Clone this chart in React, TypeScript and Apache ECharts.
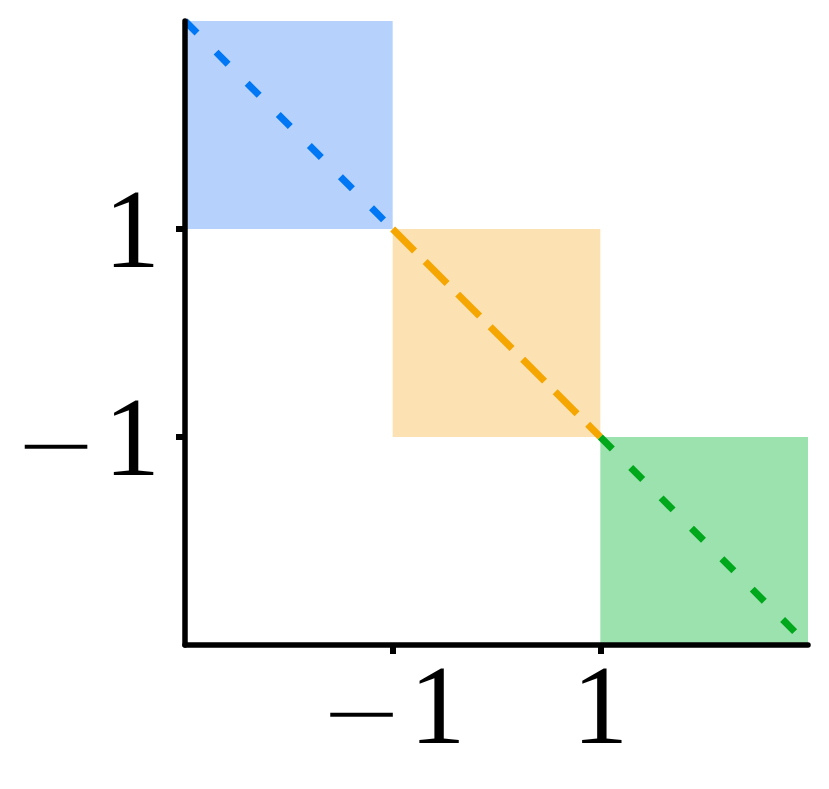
import React, { useEffect, useRef } from "react";
import * as echarts from "echarts";

// Tick values and labels
const xTickValues = [-1, 1];
const yTickValues = [-1, 1];
const axisMin = -3;
const axisMax = 3;

// Regions: [x0, x1, y0, y1]
const regionNames = ["blue", "orange", "green"];
const regionX0 = [-3, -1, 1];
const regionX1 = [-1, 1, 3];
const regionY0 = [1, -1, -3];
const regionY1 = [3, 1, -1];

// Diagonal dashed segments
const segStart = [
  [-3, 3],
  [-1, 1],
  [1, -1],
];
const segEnd = [
  [-1, 1],
  [1, -1],
  [3, -3],
];

const fillColors = ["#b6d1fb", "#fce1b2", "#9ce2ae"];
const lineColors = ["#0077f5", "#f5a600", "#00a81c"];
const dashPatterns = [
  [17, 27],
  [31, 15],
  [17, 26],
];

function fmt(v: number): string {
  if (v < 0) return "{m|\u2212}{d|" + Math.abs(v) + "}";
  return "{d|" + v + "}";
}

const rich = {
  m: {
    fontFamily: "DejaVu Sans",
    fontWeight: 200,
    fontSize: 100,
    lineHeight: 86,
    color: "#000",
    verticalAlign: "bottom",
    padding: [0, 6, 0, 0],
  },
  d: { fontFamily: "Liberation Serif", fontSize: 112, lineHeight: 112, color: "#000" },
};

export default function App() {
  const ref = useRef<HTMLDivElement>(null);
  useEffect(() => {
    document.body.style.margin = "0";
    const chart = echarts.init(ref.current!, null, { renderer: "svg" });
    const rectData = regionNames.map((_, i) => [
      regionX0[i],
      regionX1[i],
      regionY0[i],
      regionY1[i],
    ]);
    const lineSeries = segStart.map((s, i) => ({
      type: "line",
      name: regionNames[i],
      data: [s, segEnd[i]],
      showSymbol: false,
      symbol: "none",
      z: 3,
      lineStyle: {
        color: lineColors[i],
        width: 7,
        type: dashPatterns[i],
        cap: "butt",
      },
    }));
    chart.setOption({
      animation: false,
      grid: { left: 185, right: 21, top: 21, bottom: 144 },
      xAxis: {
        type: "value",
        min: axisMin,
        max: axisMax,
        interval: 2,
        z: 10,
        splitLine: { show: false },
        axisLine: { onZero: false, lineStyle: { color: "#000", width: 5.5 } },
        axisTick: {
          customValues: xTickValues,
          length: 9,
          lineStyle: { color: "#000", width: 6 },
        },
        axisLabel: {
          customValues: xTickValues,
          margin: 4,
          formatter: (v: number) => fmt(v),
          rich,
        },
      },
      yAxis: {
        type: "value",
        min: axisMin,
        max: axisMax,
        interval: 2,
        z: 10,
        splitLine: { show: false },
        axisLine: { onZero: false, lineStyle: { color: "#000", width: 5.5 } },
        axisTick: {
          customValues: yTickValues,
          length: 9,
          lineStyle: { color: "#000", width: 6 },
        },
        axisLabel: {
          customValues: yTickValues,
          margin: 25,
          formatter: (v: number) => fmt(v),
          rich,
        },
      },
      series: [
        {
          type: "custom",
          z: 1,
          data: rectData,
          encode: { x: [0, 1], y: [2, 3] },
          renderItem: (params: any, api: any) => {
            const p0 = api.coord([api.value(0), api.value(3)]);
            const p1 = api.coord([api.value(1), api.value(2)]);
            return {
              type: "rect",
              shape: {
                x: p0[0],
                y: p0[1],
                width: p1[0] - p0[0],
                height: p1[1] - p0[1],
              },
              style: { fill: fillColors[params.dataIndex] },
            };
          },
        },
        ...lineSeries,
      ],
    });
    return () => chart.dispose();
  }, []);
  return (
    <div
      ref={ref}
      style={{ position: "fixed", left: 0, top: 0, width: 829, height: 789 }}
    />
  );
}
